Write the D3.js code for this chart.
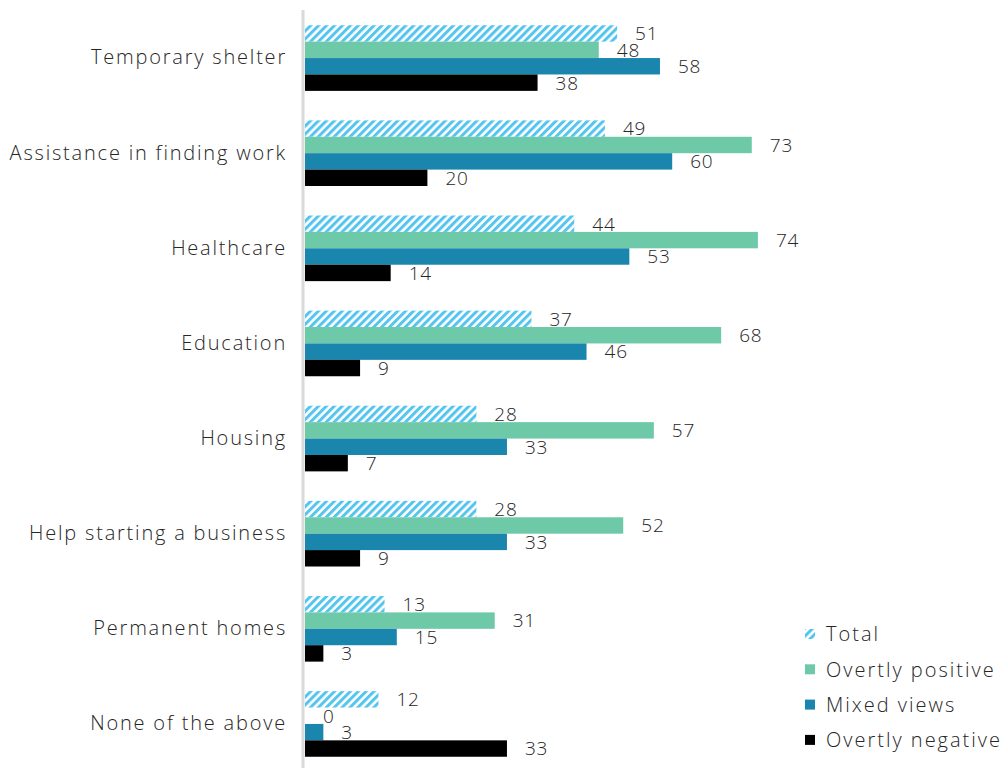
<!DOCTYPE html>
<html>
<head>
<meta charset="utf-8">
<script src="https://cdn.jsdelivr.net/npm/d3@7"></script>
<style>
  html, body { margin: 0; padding: 0; background: #fff; }
  svg { display: block; }
  text { font-family: "Open Sans", "Lato", sans-serif; font-weight: 300; fill: #262626; }
</style>
</head>
<body>
<svg id="chart" width="1006" height="768"></svg>
<script>
// Support services, by attitude group (%)
const categories = [
  "Temporary shelter",
  "Assistance in finding work",
  "Healthcare",
  "Education",
  "Housing",
  "Help starting a business",
  "Permanent homes",
  "None of the above"
];
const seriesNames = ["Total", "Overtly positive", "Mixed views", "Overtly negative"];
const totalValues    = [51, 49, 44, 37, 28, 28, 13, 12];
const positiveValues = [48, 73, 74, 68, 57, 52, 31, 0];
const mixedValues    = [58, 60, 53, 46, 33, 33, 15, 3];
const negativeValues = [38, 20, 14, 9, 7, 9, 3, 33];
const seriesValues = [totalValues, positiveValues, mixedValues, negativeValues];

const svg = d3.select("#chart");
const W = 1006, H = 768;

// stripe pattern for the Total series
const defs = svg.append("defs");
const pat = defs.append("pattern")
  .attr("id", "hatch")
  .attr("patternUnits", "userSpaceOnUse")
  .attr("width", 5.6).attr("height", 5.6)
  .attr("patternTransform", "rotate(45)");
pat.append("rect").attr("width", 5.6).attr("height", 5.6).attr("fill", "#ffffff");
pat.append("rect").attr("width", 3).attr("height", 5.6).attr("fill", "#55c4ee");

const fills = ["url(#hatch)", "#6dc9a8", "#1a85ad", "#000000"];

const x0 = 305;
const x = d3.scaleLinear().domain([0, 100]).range([x0, x0 + 612]);
const y = d3.scaleBand().domain(categories).range([10.5, 771.5]).paddingInner(0.31).paddingOuter(0.155);
const ySub = d3.scaleBand().domain(seriesNames).range([0, y.bandwidth()]);

const rows = categories.map((c, i) => ({ cat: c, vals: seriesValues.map((s, j) => ({ name: seriesNames[j], v: s[i], j })) }));

const g = svg.append("g");
const groups = g.selectAll("g.cat").data(rows).join("g")
  .attr("class", "cat")
  .attr("transform", d => `translate(0,${y(d.cat)})`);

groups.selectAll("rect").data(d => d.vals).join("rect")
  .attr("x", x(0))
  .attr("y", d => ySub(d.name))
  .attr("width", d => x(d.v) - x(0))
  .attr("height", ySub.bandwidth())
  .attr("fill", d => fills[d.j]);

groups.selectAll("text.val").data(d => d.vals).join("text")
  .attr("class", "val")
  .attr("x", d => x(d.v) + 18)
  .attr("y", d => ySub(d.name) + ySub.bandwidth() / 2)
  .attr("dy", "0.36em")
  .attr("font-size", 19)
  .style("letter-spacing", "0.8px")
  .text(d => d.v);

// category axis
const yAxis = d3.axisLeft(y).tickSize(0).tickPadding(16);
const ax = svg.append("g").attr("transform", `translate(${x0 - 2},0)`).call(yAxis);
ax.select(".domain").remove();
ax.selectAll("text")
  .attr("font-size", 20)
  .style("font-family", "'Open Sans', Lato, sans-serif")
  .style("letter-spacing", "1.8px")
  .attr("fill", "#262626");
svg.append("line")
  .attr("x1", x0 - 2).attr("x2", x0 - 2)
  .attr("y1", 10).attr("y2", H)
  .attr("stroke", "#d9d9d9").attr("stroke-width", 3);

// legend
const leg = svg.append("g").attr("transform", "translate(805,634)");
const li = leg.selectAll("g").data(seriesNames).join("g")
  .attr("transform", (d, i) => `translate(0,${i * 35.3})`);
li.append("rect").attr("x", 0).attr("y", -5).attr("width", 10).attr("height", 10)
  .attr("fill", (d, i) => fills[i]);
li.append("text").attr("x", 21).attr("dy", "0.36em").attr("font-size", 20)
  .style("letter-spacing", "2px")
  .text(d => d);
</script>
</body>
</html>
